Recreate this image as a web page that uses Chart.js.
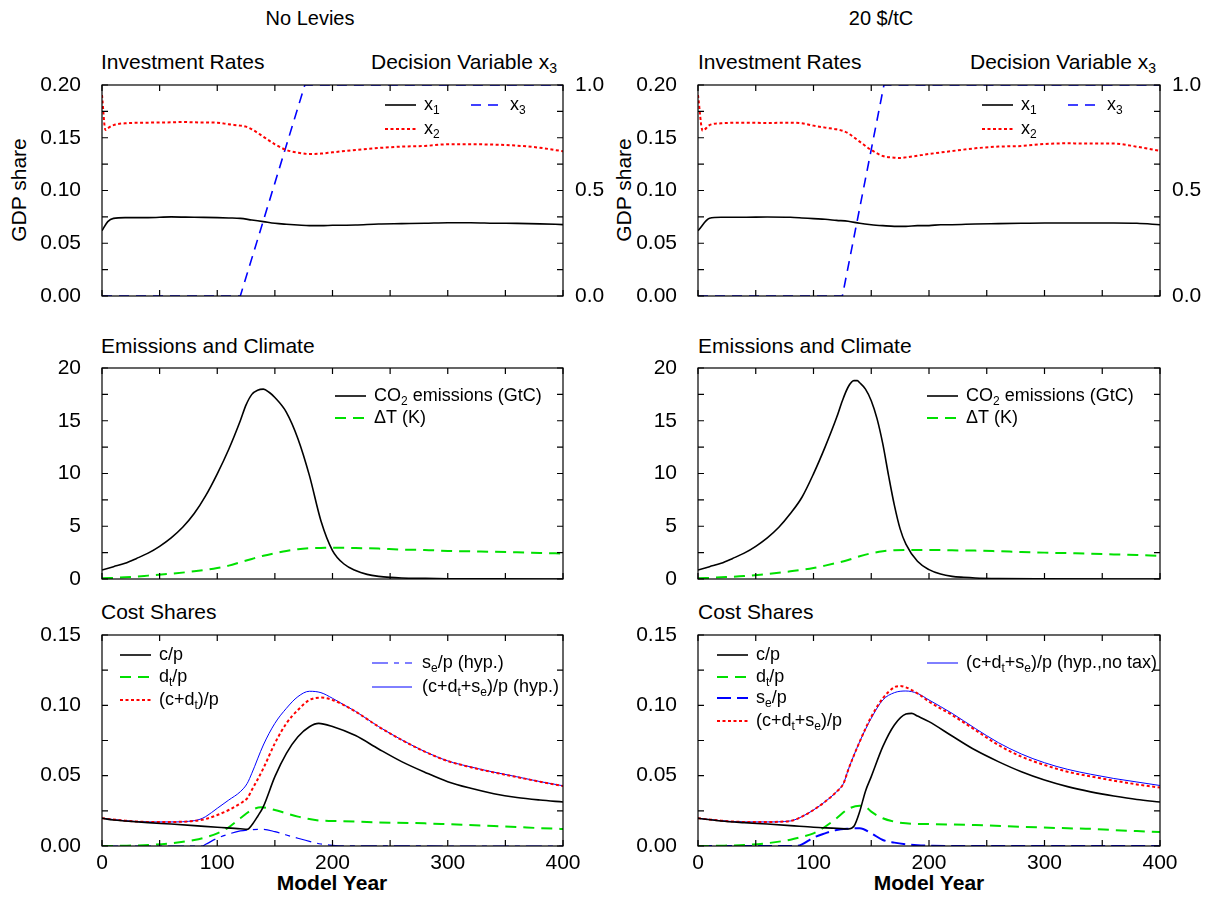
<!DOCTYPE html>
<html>
<head>
<meta charset="utf-8">
<script src="https://cdn.jsdelivr.net/npm/chart.js@4/dist/chart.umd.min.js"></script>
<style>
  body { margin: 0; background: #fff; width: 1214px; height: 906px; position: relative; overflow: hidden;
         font-family: "Liberation Sans", Arial, sans-serif; color: #000; }
  canvas { position: absolute; }
  .lbl { position: absolute; font-size: 21px; line-height: 24px; height: 24px; white-space: nowrap; }
  .lbl sub { font-size: 14px; vertical-align: -4px; line-height: 0; }
  .rot { transform: translate(-50%, -50%) rotate(-90deg); }
</style>
</head>
<body>
<div class="lbl" style="left:310px;top:6px;transform:translateX(-50%);font-size:20px">No Levies</div>
<div class="lbl" style="left:881px;top:6px;transform:translateX(-50%);font-size:20px">20 $/tC</div>

<div class="lbl" style="left:101px;top:50px">Investment Rates</div>
<div class="lbl" style="right:657px;top:50px">Decision Variable x<sub>3</sub></div>
<div class="lbl" style="left:698px;top:50px">Investment Rates</div>
<div class="lbl" style="right:58px;top:50px">Decision Variable x<sub>3</sub></div>
<div class="lbl rot" style="left:19px;top:190px">GDP share</div>
<div class="lbl rot" style="left:624px;top:190px">GDP share</div>

<div class="lbl" style="left:101px;top:334px">Emissions and Climate</div>
<div class="lbl" style="left:698px;top:334px">Emissions and Climate</div>

<div class="lbl" style="left:101px;top:600px">Cost Shares</div>
<div class="lbl" style="left:698px;top:600px">Cost Shares</div>

<div class="lbl" style="left:332px;top:871px;transform:translateX(-50%);font-weight:bold">Model Year</div>
<div class="lbl" style="left:929px;top:871px;transform:translateX(-50%);font-weight:bold">Model Year</div>

<canvas id="invL" width="630" height="239" style="left:0;top:71px"></canvas>
<canvas id="invR" width="614" height="239" style="left:600px;top:71px"></canvas>
<canvas id="emiL" width="630" height="239" style="left:0;top:354px"></canvas>
<canvas id="emiR" width="614" height="239" style="left:600px;top:354px"></canvas>
<canvas id="cstL" width="630" height="259" style="left:0;top:621px"></canvas>
<canvas id="cstR" width="614" height="259" style="left:600px;top:621px"></canvas>

<script>
// ---- Investment rates, no levies ----
const yrX1L = [0,5,10,20,40,60,80,100,110,120,130,140,150,160,170,180,190,200,220,240,260,280,300,320,340,360,380,400];
const x1L = [0.0619,0.0705,0.0736,0.0743,0.0743,0.0750,0.0746,0.0743,0.0740,0.0736,0.0720,0.0705,0.0689,0.0680,0.0673,0.0667,0.0667,0.0670,0.0673,0.0683,0.0686,0.0689,0.0695,0.0695,0.0690,0.0688,0.0684,0.0677];
const yrX2L = [0,3,5,10,20,40,60,70,80,100,110,120,125,130,140,150,160,170,180,190,200,220,240,260,280,300,320,340,360,380,400];
const x2L = [0.1905,0.1573,0.1590,0.1620,0.1637,0.1643,0.1646,0.1650,0.1646,0.1643,0.1627,0.1615,0.1605,0.1580,0.1510,0.1438,0.1384,0.1359,0.1346,0.1350,0.1362,0.1384,0.1403,0.1416,0.1422,0.1438,0.1438,0.1435,0.1425,0.1405,0.1372];
const yrX3L = [0,120,176,400];
const x3L = [0,0,1,1];

// ---- Investment rates, 20 $/tC ----
const yrX1R = [0,10,20,40,60,80,90,100,110,120,130,140,150,160,170,180,190,200,210,220,240,260,280,300,320,340,360,380,400];
const x1R = [0.0619,0.0736,0.0746,0.0746,0.0749,0.0746,0.0740,0.0733,0.0727,0.0717,0.0708,0.0689,0.0676,0.0667,0.0660,0.0660,0.0667,0.0667,0.0676,0.0676,0.0683,0.0686,0.0689,0.0692,0.0692,0.0692,0.0692,0.0689,0.0675];
const yrX2R = [0,4,10,20,40,60,80,90,100,110,120,125,130,140,150,160,170,175,180,190,200,220,240,260,280,300,320,340,360,380,400];
const x2R = [0.1905,0.1567,0.1620,0.1637,0.1643,0.1640,0.1643,0.1637,0.1615,0.1596,0.1580,0.1567,0.1542,0.1463,0.1384,0.1327,0.1311,0.1308,0.1314,0.1330,0.1346,0.1374,0.1400,0.1416,0.1422,0.1441,0.1447,0.1445,0.1445,0.1415,0.1375];
const yrX3R = [0,125,161,400];
const x3R = [0,0,1,1];

// ---- Emissions and climate ----
const yrCo2L = [0,10,20,30,40,50,60,70,80,90,100,110,120,125,130,135,140,145,150,160,170,180,190,200,210,220,230,240,250,260,280,300,340,400];
const co2L = [0.85,1.17,1.49,1.95,2.45,3.1,3.9,4.9,6.2,7.9,9.97,12.3,15.0,16.5,17.5,17.9,18.0,17.7,17.2,15.8,13.3,9.8,5.5,2.7,1.42,0.8,0.44,0.25,0.15,0.1,0.06,0.03,0.01,0.0];
const yrDtL = [0,20,40,60,80,100,110,120,130,140,150,160,170,180,190,200,220,240,260,280,300,320,340,360,380,400];
const dTL = [0.06,0.16,0.32,0.5,0.73,1.04,1.27,1.58,1.9,2.2,2.44,2.66,2.82,2.91,2.94,2.97,2.94,2.88,2.78,2.75,2.66,2.62,2.58,2.53,2.47,2.42];

const yrCo2R = [0,10,20,30,40,50,60,70,80,90,100,110,120,125,130,135,138,140,145,150,155,160,165,170,175,180,190,200,210,220,230,240,260,300,400];
const co2R = [0.85,1.17,1.49,1.95,2.45,3.1,3.9,4.9,6.2,7.75,9.97,12.5,15.3,16.9,18.2,18.8,18.8,18.6,18.0,16.9,15.2,12.8,9.8,7.0,4.75,3.3,1.68,0.89,0.47,0.25,0.16,0.1,0.05,0.02,0];
const yrDtR = [0,20,40,60,80,100,110,120,130,140,150,160,170,180,200,220,240,260,280,300,320,340,360,380,400];
const dTR = [0.06,0.16,0.28,0.47,0.73,1.04,1.27,1.52,1.8,2.15,2.44,2.63,2.72,2.75,2.75,2.72,2.69,2.63,2.56,2.5,2.45,2.4,2.33,2.27,2.2];

// ---- Cost shares, no levies ----
const yrCpL = [0,10,20,40,60,80,100,120,126,130,135,140,150,160,170,180,188,200,220,240,260,280,300,320,340,360,380,400];
const cpL = [0.0197,0.0185,0.0178,0.0166,0.0156,0.0145,0.0133,0.0123,0.0118,0.0149,0.0210,0.0280,0.0493,0.0659,0.0777,0.0848,0.0872,0.0850,0.0785,0.0690,0.0600,0.0525,0.0457,0.0410,0.0372,0.0345,0.0327,0.0313];
const yrDpL = [0,20,40,60,80,90,100,110,120,130,138,150,160,170,180,190,200,240,280,300,340,360,380,400];
const dpL = [0,0.0002,0.0007,0.0019,0.0043,0.0062,0.009,0.0133,0.0197,0.0256,0.0275,0.0256,0.0232,0.0209,0.0192,0.018,0.0178,0.0168,0.0161,0.0155,0.0142,0.0135,0.0127,0.0121];
const yrCdL = [0,20,40,60,80,90,100,110,120,126,130,140,150,160,170,180,190,200,220,240,260,280,300,320,340,360,380,400];
const cdL = [0.0197,0.018,0.0171,0.0171,0.0178,0.0192,0.022,0.0256,0.0303,0.0339,0.0398,0.0552,0.073,0.0872,0.0967,0.1038,0.1055,0.1038,0.0955,0.0848,0.0754,0.0671,0.0604,0.056,0.0523,0.049,0.0457,0.0427];
const yrSeL = [0,87,90,100,110,120,130,140,150,160,170,180,190,200,210,400];
const seL = [0,0,0.0012,0.0055,0.0085,0.0107,0.0116,0.0118,0.0102,0.0078,0.0055,0.0033,0.0014,0.0005,0.0001,0];
const yrHypL = [0,20,40,60,80,85,90,100,110,120,126,130,140,150,160,170,180,190,200,210,220,240,260,280,300,320,340,360,380,400];
const hypL = [0.0197,0.018,0.0171,0.0171,0.018,0.019,0.0209,0.0268,0.0327,0.0386,0.0445,0.0517,0.0718,0.0872,0.0979,0.1062,0.11,0.109,0.105,0.1003,0.0957,0.0849,0.0755,0.0672,0.0605,0.0562,0.0525,0.0492,0.0458,0.0428];

// ---- Cost shares, 20 $/tC ----
const yrCpR = [0,20,40,60,80,100,120,130,135,140,145,150,160,170,180,185,190,200,220,240,260,280,300,320,340,360,380,400];
const cpR = [0.0197,0.0178,0.0166,0.0156,0.0145,0.0133,0.0126,0.0121,0.0140,0.0245,0.0390,0.0493,0.0706,0.086,0.0938,0.0943,0.0924,0.0884,0.0782,0.0682,0.06,0.0528,0.0469,0.0422,0.0385,0.0355,0.033,0.0313];
const yrDpR = [0,20,40,60,80,90,100,110,120,130,140,145,150,160,170,180,200,240,280,320,340,360,380,400];
const dpR = [0,0.0002,0.0007,0.002,0.0045,0.0065,0.009,0.0137,0.0197,0.0263,0.0287,0.028,0.0244,0.0197,0.0173,0.0161,0.0156,0.0149,0.0137,0.0126,0.0122,0.0113,0.0106,0.0099];
const yrSeR = [0,85,90,100,110,120,130,140,150,160,170,180,190,200,220,400];
const seR = [0,0,0.0012,0.006,0.009,0.0114,0.0123,0.0126,0.009,0.0043,0.0024,0.0012,0.0005,0.0002,0,0];
const yrTotR = [0,20,40,60,80,85,90,100,110,120,126,130,140,150,160,170,175,180,190,200,220,240,260,280,300,320,340,360,380,400];
const totR = [0.0197,0.018,0.0171,0.0171,0.0178,0.019,0.0209,0.0256,0.0315,0.0386,0.0445,0.054,0.0742,0.0919,0.105,0.1128,0.1137,0.1128,0.1085,0.1026,0.0931,0.0825,0.0718,0.0635,0.0576,0.0528,0.0495,0.0465,0.0438,0.0415];
const yrHypR = [0,20,40,60,80,85,90,100,110,120,126,130,140,150,160,170,180,190,200,220,240,260,280,300,320,340,360,380,400];
const hypR = [0.0197,0.018,0.0171,0.0171,0.0178,0.019,0.0209,0.0256,0.0315,0.0386,0.0445,0.054,0.0742,0.0908,0.1038,0.109,0.1102,0.1085,0.1038,0.0943,0.0836,0.0735,0.0654,0.0592,0.0545,0.051,0.048,0.0455,0.043];

Chart.defaults.font.family = '"Liberation Sans", Arial, sans-serif';
Chart.defaults.font.size = 21;
Chart.defaults.color = '#000';

const BLACK = '#000000', RED = '#ff0000', BLUE = '#0000ff', GREEN = '#00e000';

function pts(xs, ys) {
  return xs.map((x, i) => ({ x: x, y: ys[i] }));
}

function line(label, xs, ys, color, width, dash, extra) {
  return Object.assign({
    label: label,
    data: pts(xs, ys),
    borderColor: color,
    borderWidth: width,
    borderDash: dash || [],
    pointRadius: 0,
    fill: false,
    cubicInterpolationMode: 'monotone'
  }, extra || {});
}

// frame with inward ticks on all four sides
const frameTicks = {
  id: 'frameTicks',
  afterDatasetsDraw(chart) {
    const { ctx, chartArea: a, scales } = chart;
    const L = 6;
    ctx.save();
    ctx.strokeStyle = '#000';
    ctx.lineWidth = 1.2;
    ctx.setLineDash([]);
    ctx.beginPath();
    scales.x.ticks.forEach(t => {
      const px = scales.x.getPixelForValue(t.value);
      ctx.moveTo(px, a.bottom); ctx.lineTo(px, a.bottom - L);
      ctx.moveTo(px, a.top); ctx.lineTo(px, a.top + L);
    });
    scales.y.ticks.forEach(t => {
      const py = scales.y.getPixelForValue(t.value);
      ctx.moveTo(a.left, py); ctx.lineTo(a.left + L, py);
      ctx.moveTo(a.right, py); ctx.lineTo(a.right - L, py);
    });
    ctx.stroke();
    ctx.strokeRect(a.left, a.top, a.right - a.left, a.bottom - a.top);
    ctx.restore();
  }
};

// text with "_c" subscripts
function richText(ctx, str, x, y, size) {
  let cx = x;
  for (let i = 0; i < str.length; i++) {
    let ch = str[i], sub = false;
    if (ch === '_' && i + 1 < str.length) { ch = str[++i]; sub = true; }
    const fs = sub ? Math.round(size * 0.65) : size;
    ctx.font = fs + 'px "Liberation Sans", Arial, sans-serif';
    ctx.fillText(ch, cx, sub ? y + size * 0.3 : y);
    cx += ctx.measureText(ch).width;
  }
}

// legend drawn inside the plot area
const inLegend = {
  id: 'inLegend',
  afterDraw(chart, args, opts) {
    const { ctx, chartArea: a } = chart;
    ctx.save();
    ctx.textBaseline = 'middle';
    ctx.fillStyle = '#000';
    (opts.items || []).forEach(it => {
      const ds = chart.data.datasets[it.ds];
      const x = a.left + it.x, y = a.top + it.y;
      const len = it.len || 31;
      ctx.strokeStyle = ds.borderColor;
      ctx.lineWidth = ds.borderWidth;
      ctx.setLineDash(ds.borderDash || []);
      ctx.beginPath();
      ctx.moveTo(x, y); ctx.lineTo(x + len, y);
      ctx.stroke();
      ctx.setLineDash([]);
      richText(ctx, ds.label, x + len + (it.gap || 8), y, 18);
    });
    ctx.restore();
  }
};

function fmt2(step) {
  return v => {
    const k = Math.round(v / step);
    return k % 2 === 0 ? (k * step).toFixed(2) : '';
  };
}

// keep the label overhang from shrinking the plot area
function noPad(s) {
  s.paddingTop = 0; s.paddingBottom = 0; s.paddingLeft = 0; s.paddingRight = 0;
}

function panel(id, o) {
  const scales = {
    x: {
      type: 'linear', min: 0, max: 400,
      grid: { display: false }, border: { display: false },
      ticks: {
        stepSize: 50, autoSkip: false, maxRotation: 0, padding: -3,
        display: !!o.xLabels,
        callback: v => (v % 100 === 0 ? String(v) : '')
      },
      afterFit: s => { s.height = o.xH; noPad(s); }
    },
    y: {
      position: 'left', min: o.yMin, max: o.yMax,
      grid: { display: false }, border: { display: false },
      ticks: { stepSize: o.yStep, autoSkip: false, padding: 13, callback: o.yFmt },
      afterFit: s => { s.width = o.yW; noPad(s); }
    }
  };
  if (o.y2) {
    scales.y2 = {
      position: 'right', min: 0, max: 1,
      grid: { display: false }, border: { display: false },
      ticks: { stepSize: 0.5, padding: 4, callback: v => v.toFixed(1) },
      afterFit: s => { s.width = o.rW; noPad(s); }
    };
  }
  return new Chart(document.getElementById(id), {
    type: 'line',
    data: { datasets: o.datasets },
    options: {
      responsive: false,
      animation: false,
      devicePixelRatio: 1,
      layout: { autoPadding: false, padding: { top: 14, left: 0, bottom: 0, right: o.y2 ? 0 : o.rW } },
      scales: scales,
      plugins: { legend: { display: false }, tooltip: { enabled: false }, inLegend: { items: o.legend } }
    },
    plugins: [frameTicks, inLegend]
  });
}

// top row
const invCommon = { yMin: 0, yMax: 0.2, yStep: 0.025, yFmt: fmt2(0.025), xH: 14, y2: true };
panel('invL', Object.assign({}, invCommon, {
  yW: 102, rW: 67,
  datasets: [
    line('x_1', yrX1L, x1L, BLACK, 1.6),
    line('x_2', yrX2L, x2L, RED, 2, [3, 2.5]),
    line('x_3', yrX3L, x3L, BLUE, 1.6, [10, 7], { yAxisID: 'y2', cubicInterpolationMode: 'default', tension: 0 })
  ],
  legend: [{ ds: 0, x: 283, y: 20 }, { ds: 1, x: 283, y: 44 }, { ds: 2, x: 369, y: 20 }]
}));
panel('invR', Object.assign({}, invCommon, {
  yW: 98, rW: 54,
  datasets: [
    line('x_1', yrX1R, x1R, BLACK, 1.6),
    line('x_2', yrX2R, x2R, RED, 2, [3, 2.5]),
    line('x_3', yrX3R, x3R, BLUE, 1.6, [10, 7], { yAxisID: 'y2', cubicInterpolationMode: 'default', tension: 0 })
  ],
  legend: [{ ds: 0, x: 284, y: 20 }, { ds: 1, x: 284, y: 44 }, { ds: 2, x: 370, y: 20 }]
}));

// middle row
const emiCommon = {
  yMin: 0, yMax: 20, yStep: 2.5, xH: 14,
  yFmt: v => (Math.round(v / 2.5) % 2 === 0 ? String(Math.round(v)) : '')
};
panel('emiL', Object.assign({}, emiCommon, {
  yW: 102, rW: 67,
  datasets: [
    line('CO_2 emissions (GtC)', yrCo2L, co2L, BLACK, 1.6),
    line('\u0394T (K)', yrDtL, dTL, GREEN, 2, [11, 7])
  ],
  legend: [{ ds: 0, x: 233, y: 28 }, { ds: 1, x: 233, y: 50 }]
}));
panel('emiR', Object.assign({}, emiCommon, {
  yW: 98, rW: 54,
  datasets: [
    line('CO_2 emissions (GtC)', yrCo2R, co2R, BLACK, 1.6),
    line('\u0394T (K)', yrDtR, dTR, GREEN, 2, [11, 7])
  ],
  legend: [{ ds: 0, x: 229, y: 28 }, { ds: 1, x: 229, y: 50 }]
}));

// bottom row
const cstCommon = { yMin: 0, yMax: 0.15, yStep: 0.025, yFmt: fmt2(0.025), xH: 34, xLabels: true };
panel('cstL', Object.assign({}, cstCommon, {
  yW: 102, rW: 67,
  datasets: [
    line('c/p', yrCpL, cpL, BLACK, 1.6),
    line('d_t/p', yrDpL, dpL, GREEN, 2, [11, 7]),
    line('(c+d_t)/p', yrCdL, cdL, RED, 2, [3, 2.5]),
    line('s_e/p (hyp.)', yrSeL, seL, BLUE, 1.2, [16, 6, 5, 6]),
    line('(c+d_t+s_e)/p (hyp.)', yrHypL, hypL, BLUE, 1)
  ],
  legend: [
    { ds: 0, x: 18, y: 20 }, { ds: 1, x: 18, y: 42 }, { ds: 2, x: 18, y: 65 },
    { ds: 3, x: 270, y: 28, len: 40, gap: 10 }, { ds: 4, x: 270, y: 52, len: 40, gap: 10 }
  ]
}));
panel('cstR', Object.assign({}, cstCommon, {
  yW: 98, rW: 54,
  datasets: [
    line('c/p', yrCpR, cpR, BLACK, 1.6),
    line('d_t/p', yrDpR, dpR, GREEN, 2, [11, 7]),
    line('s_e/p', yrSeR, seR, BLUE, 2, [14, 6]),
    line('(c+d_t+s_e)/p', yrTotR, totR, RED, 2, [3, 2.5]),
    line('(c+d_t+s_e)/p (hyp.,no tax)', yrHypR, hypR, BLUE, 1)
  ],
  legend: [
    { ds: 0, x: 19, y: 20 }, { ds: 1, x: 19, y: 42 }, { ds: 2, x: 19, y: 63 }, { ds: 3, x: 19, y: 86 },
    { ds: 4, x: 229, y: 28 }
  ]
}));
</script>
</body>
</html>
